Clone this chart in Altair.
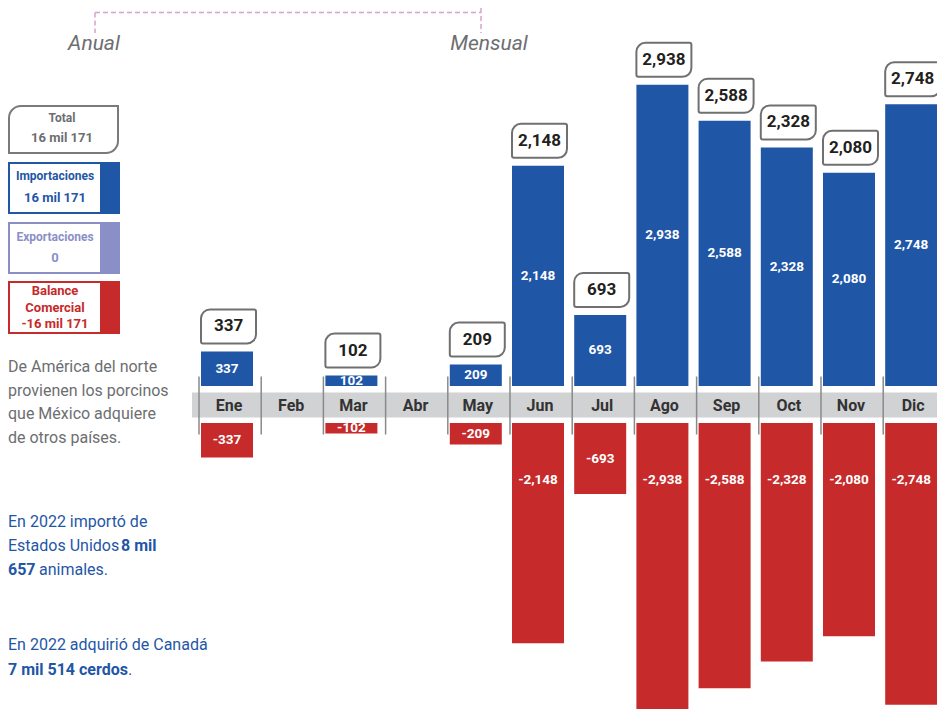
import altair as alt
import pandas as pd

# ---------------- data ----------------
months = ["Ene", "Feb", "Mar", "Abr", "May", "Jun", "Jul", "Ago", "Sep", "Oct", "Nov", "Dic"]
importaciones = [337, 0, 102, 0, 209, 2148, 693, 2938, 2588, 2328, 2080, 2748]
exportaciones = [0, 0, 0, 0, 0, 0, 0, 0, 0, 0, 0, 0]
balance = [-337, 0, -102, 0, -209, -2148, -693, -2938, -2588, -2328, -2080, -2748]

legend_titles = ["Total", "Importaciones", "Exportaciones", "Balance", "Comercial"]
legend_values = ["16 mil 171", "16 mil 171", "0", "-16 mil 171"]

intro_lines = ["De América del norte", "provienen los porcinos", "que México adquiere", "de otros países."]
usa_parts = ["En 2022 importó de", "Estados Unidos", "8 mil", "657", "animales."]
can_parts = ["En 2022 adquirió de Canadá", "7 mil 514 cerdos", "."]
period_labels = ["Anual", "Mensual"]

df = pd.DataFrame({"mes": months, "imp": importaciones, "exp": exportaciones, "bal": balance})

# ---------------- style ----------------
FONT = "Roboto, Liberation Sans, sans-serif"
BLUE = "#1f56a6"
RED = "#c62a2a"
PURPLE = "#8b8fc8"
GRAY = "#6d6e71"
DARK = "#231f20"

W, H = 929, 701
K = 0.1025      # px per unit (y)
Z = 396.5       # zero line (px)
GAP = 18.5
STEP = 62.2     # px per month
C0 = 219        # centre of first month (px)
ydom = [-(H - Z) / K, Z / K]
xdom = [-C0 / STEP, (W - C0) / STEP]
HB = 26 / STEP  # half bar width in month units

xs = alt.Scale(domain=xdom, nice=False, zero=False)
ys = alt.Scale(domain=ydom, nice=False, zero=False)


def Xf(f):
    return alt.X(f, scale=xs, axis=None)


def Y(f):
    return alt.Y(f, scale=ys, axis=None)


base = alt.Chart(df).transform_window(n="row_number()").transform_calculate(
    i="datum.n - 1", zero="0",
    xl=f"datum.n - 1 - {HB}", xr=f"datum.n - 1 + {HB}",
    xd=f"datum.n - 1 - {28 / STEP}", xbr=f"datum.n - 1 + {29 / STEP}",
)
pos = base.transform_filter("datum.imp > 0")
one = pd.DataFrame({"a": [0]})

band = alt.Chart(one).mark_rect(color="#d1d2d4").encode(
    x=alt.value(184), x2=alt.value(W), y=alt.value(Z - 12), y2=alt.value(Z + 13)
)

dividers = base.mark_rule(color="#8a8a8a", strokeWidth=1.5).encode(
    x=Xf("xd:Q"), y=alt.value(Z - 28), y2=alt.value(Z + 30)
)

month_labels = base.mark_text(font=FONT, fontWeight="bold", fontSize=16, color="#333333",
                              baseline="middle", xOffset=2).encode(
    x=Xf("i:Q"), y=alt.value(Z + 1), text="mes:N"
)

blue_bars = pos.mark_rect(color=BLUE, yOffset=-GAP, y2Offset=-GAP).encode(
    x=Xf("xl:Q"), x2="xr:Q", y=Y("imp:Q"), y2="zero:Q"
)
red_bars = pos.mark_rect(color=RED, yOffset=GAP, y2Offset=GAP).encode(
    x=Xf("xl:Q"), x2="xr:Q", y=Y("bal:Q"), y2="zero:Q"
)

blue_labels = pos.transform_calculate(
    mid="datum.imp / 2", lab="format(datum.imp, ',d')"
).mark_text(
    font=FONT, fontWeight="bold", fontSize=13.5, color="white", baseline="middle", yOffset=-GAP
).encode(x=Xf("i:Q"), y=Y("mid:Q"), text="lab:N")

red_labels = pos.transform_calculate(
    mid="max(datum.bal / 2, -560)", lab="'-' + format(abs(datum.bal), ',d')"
).mark_text(
    font=FONT, fontWeight="bold", fontSize=13.5, color="white", baseline="middle", yOffset=GAP
).encode(x=Xf("i:Q"), y=Y("mid:Q"), text="lab:N")

callout_box = pos.mark_rect(
    fill="white", stroke="#707070", strokeWidth=2,
    cornerRadiusTopLeft=9, cornerRadiusBottomRight=9, cornerRadiusTopRight=2, cornerRadiusBottomLeft=2,
    yOffset=-GAP - 42, y2Offset=-GAP - 8
).encode(x=Xf("xl:Q"), x2="xbr:Q", y=Y("imp:Q"), y2="imp:Q")

callout_text = pos.transform_calculate(lab="format(datum.imp, ',d')").mark_text(
    font=FONT, fontWeight="bold", fontSize=17, color=DARK, baseline="middle",
    yOffset=-GAP - 25, xOffset=1.5
).encode(x=Xf("i:Q"), y=Y("imp:Q"), text="lab:N")


def txt(t, x, y, color, size, bold=False, align="left", italic=False, baseline="middle"):
    kw = dict(font=FONT, fontSize=size, color=color, align=align, baseline=baseline)
    if bold:
        kw["fontWeight"] = "bold"
    if italic:
        kw["fontStyle"] = "italic"
    return alt.Chart(pd.DataFrame({"t": [t]})).mark_text(**kw).encode(
        x=alt.value(x), y=alt.value(y), text="t:N"
    )


def box(x1, x2, y1, y2, stroke, **radii):
    return alt.Chart(one).mark_rect(fill="white", stroke=stroke, strokeWidth=2, **radii).encode(
        x=alt.value(x1), x2=alt.value(x2), y=alt.value(y1), y2=alt.value(y2)
    )


def block(x1, x2, y1, y2, color):
    return alt.Chart(one).mark_rect(color=color).encode(
        x=alt.value(x1), x2=alt.value(x2), y=alt.value(y1), y2=alt.value(y2)
    )


legend = [
    box(1, 110, 98, 145, "#7a7a7a", cornerRadiusTopLeft=12, cornerRadiusBottomRight=12),
    txt(legend_titles[0], 54, 110, GRAY, 12, bold=True, align="center"),
    txt(legend_values[0], 54, 130, GRAY, 13, bold=True, align="center"),

    box(1, 111, 155, 205, BLUE),
    block(92, 112, 154, 206, BLUE),
    txt(legend_titles[1], 47, 168, BLUE, 12, bold=True, align="center"),
    txt(legend_values[1], 47, 190, BLUE, 13, bold=True, align="center"),

    box(1, 111, 215, 265, PURPLE),
    block(92, 112, 214, 266, PURPLE),
    txt(legend_titles[2], 47, 229, PURPLE, 12, bold=True, align="center"),
    txt(legend_values[2], 47, 250, PURPLE, 13, bold=True, align="center"),

    box(1, 111, 274, 325, RED),
    block(92, 112, 273, 326, RED),
    txt(legend_titles[3], 47, 283, RED, 13, bold=True, align="center"),
    txt(legend_titles[4], 47, 300, RED, 13, bold=True, align="center"),
    txt(legend_values[3], 47, 316, RED, 13, bold=True, align="center"),
]

PS = 16
paragraphs = [txt(line, 0, 359 + i * 23.5, GRAY, PS) for i, line in enumerate(intro_lines)]
paragraphs += [
    txt(usa_parts[0], 0, 514, BLUE, PS),
    txt(usa_parts[1], 0, 538, BLUE, PS),
    txt(usa_parts[2], 113, 538, BLUE, PS, bold=True),
    txt(usa_parts[3], 0, 562, BLUE, PS, bold=True),
    txt(usa_parts[4], 31, 562, BLUE, PS),
    txt(can_parts[0], 0, 637, BLUE, PS),
    txt(can_parts[1], 0, 662, BLUE, PS, bold=True),
    txt(can_parts[2], 120, 662, BLUE, PS),
]

DASH = "#d6a3cf"
bracket = [
    alt.Chart(one).mark_rule(color=DASH, strokeWidth=1.5, strokeDash=[5, 3]).encode(
        x=alt.value(87), x2=alt.value(473), y=alt.value(4.5)),
    alt.Chart(one).mark_rule(color=DASH, strokeWidth=1.5, strokeDash=[5, 3]).encode(
        x=alt.value(87), y=alt.value(4.5), y2=alt.value(25)),
    alt.Chart(one).mark_rule(color=DASH, strokeWidth=1.5, strokeDash=[5, 3]).encode(
        x=alt.value(473), y=alt.value(0), y2=alt.value(25)),
    txt(period_labels[0], 86, 42, GRAY, 21, italic=True, align="center", baseline="alphabetic"),
    txt(period_labels[1], 481, 42, GRAY, 21, italic=True, align="center", baseline="alphabetic"),
]

chart = alt.layer(
    band, dividers, blue_bars, red_bars, month_labels, blue_labels, red_labels,
    callout_box, callout_text, *legend, *paragraphs, *bracket
).properties(
    width=W, height=H, padding=0,
    autosize=alt.AutoSizeParams(type="none")
).configure_view(stroke=None)

chart.save("out.html", embed_options={"renderer": "svg", "actions": False})
